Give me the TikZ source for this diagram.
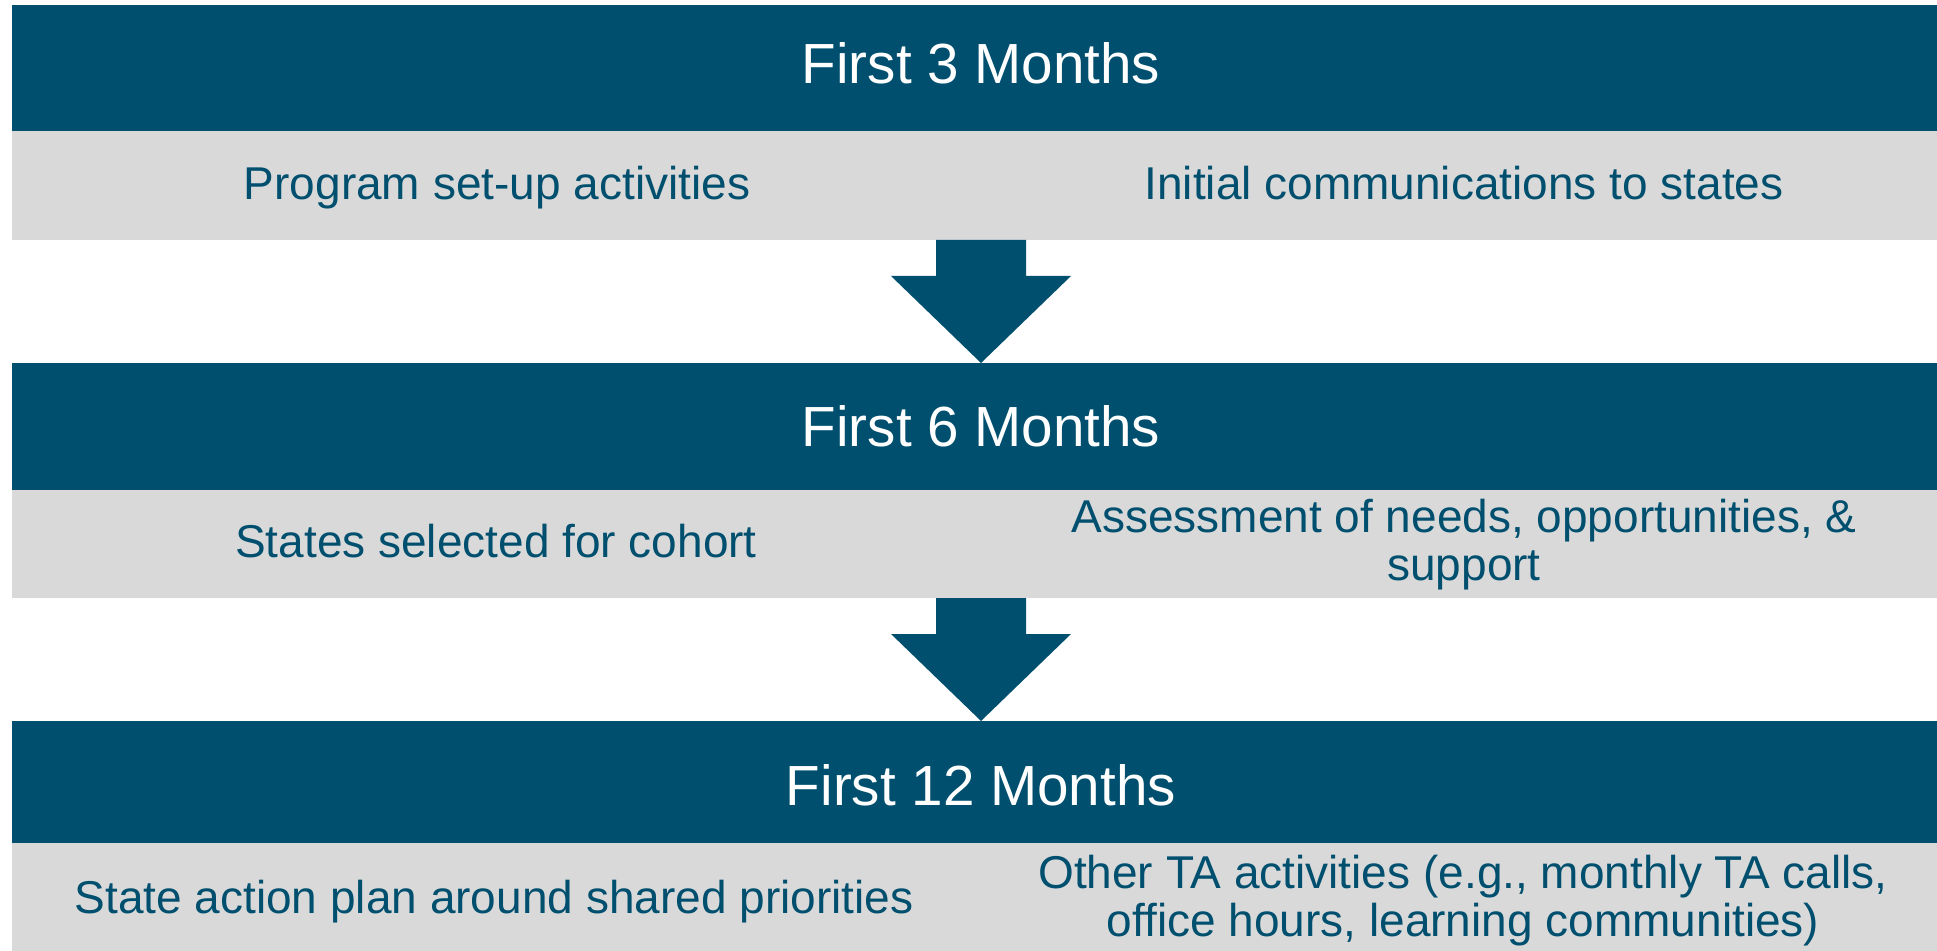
\documentclass[tikz,border=0pt]{standalone}
\usepackage{fontspec}
\setmainfont{Liberation Sans}
\definecolor{bandblue}{RGB}{0,79,110}
\definecolor{bandgrey}{RGB}{217,217,217}
\tikzset{
	header/.style={text=white, font=\fontsize{28.3}{30}\selectfont, anchor=base, inner sep=0pt},
	item/.style={text=bandblue, font=\fontsize{23}{24}\selectfont, anchor=base, align=center, inner sep=0pt},
	itemtwo/.style={item, anchor=center},
}
\begin{document}
\begin{tikzpicture}[x=0.5pt,y=-0.5pt]
		\useasboundingbox (0,0) rectangle (1937,951);
		
		% bands: blue header, grey row below
		\fill[bandblue] (12,5) rectangle (1937,131);
		\fill[bandgrey] (12,131) rectangle (1937,240);
		\fill[bandblue] (12,363) rectangle (1937,490);
		\fill[bandgrey] (12,490) rectangle (1937,598);
		\fill[bandblue] (12,721) rectangle (1937,843);
		\fill[bandgrey] (12,843) rectangle (1937,951);
		
		% block arrows between the bands
		\foreach \top/\mid/\tip in {240/276/363, 598/634/721}
		\fill[bandblue] (936,\top) -- (1026,\top) -- (1026,\mid) -- (1071,\mid)
			-- (981,\tip) -- (891,\mid) -- (936,\mid) -- cycle;
		
		% first 3 months
		\node[header] (h3) at (981,84) {First 3 Months};
		\node[item] (setup) at (497,200) {Program set-up activities};
		\node[item] (comms) at (1464,200) {Initial communications to states};
		
		% first 6 months
		\node[header] (h6) at (981,447) {First 6 Months};
		\node[item] (cohort) at (496,558) {States selected for cohort};
		\node[itemtwo] (assess) at (1464,545) {Assessment of needs, opportunities, \&\\support};
		
		% first 12 months
		\node[header] (h12) at (981,805) {First 12 Months};
		\node[item] (plan) at (494,913) {State action plan around shared priorities};
		\node[itemtwo] (other) at (1463,901) {Other TA activities (e.g., monthly TA calls,\\office hours, learning communities)};
	\end{tikzpicture}
\end{document}
